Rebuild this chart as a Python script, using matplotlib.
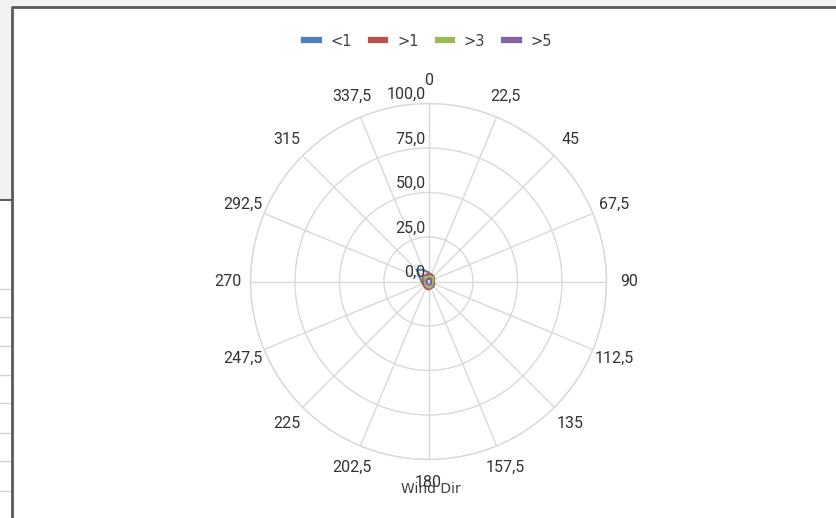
import numpy as np
import matplotlib.pyplot as plt
from matplotlib.patches import Rectangle
from matplotlib.lines import Line2D

directions = [0, 22.5, 45, 67.5, 90, 112.5, 135, 157.5, 180,
              202.5, 225, 247.5, 270, 292.5, 315, 337.5]
dir_labels = ["0", "22,5", "45", "67,5", "90", "112,5", "135", "157,5", "180",
              "202,5", "225", "247,5", "270", "292,5", "315", "337,5"]
r_ticks = [0, 25, 50, 75, 100]
r_labels = ["0,0", "25,0", "50,0", "75,0", "100,0"]

series_names = ["<1", ">1", ">3", ">5"]
lt1 = [5, 4, 3.5, 3, 3, 3.5, 4, 4, 4, 4, 3.5, 3.5, 4, 5, 9.5, 7]
gt1 = [4, 4.5, 4, 3.5, 3, 3, 3.5, 4, 4.5, 4, 3.5, 3, 3, 3.5, 4, 4]
gt3 = [2.5, 3, 3.5, 3, 2.5, 2.5, 3, 3.5, 3.5, 3, 2.5, 2, 2, 2.5, 3, 2.5]
gt5 = [1.5, 2, 2, 1.5, 1.5, 1.5, 2, 2, 2, 1.5, 1.5, 1, 1, 1.5, 1.5, 1.5]
colors = ["#4F81BD", "#C0504D", "#9BBB59", "#8064A2"]

W, H = 836, 518
fig = plt.figure(figsize=(W / 100, H / 100), dpi=100)
fig.patch.set_facecolor("white")

def px(x, y):
    return x / W, 1 - y / H

# spreadsheet bits around the chart
fig.add_artist(Rectangle((0, 1 - 6 / H), 1, 6 / H, transform=fig.transFigure,
                         facecolor="#f2f2f2", edgecolor="none"))
fig.add_artist(Rectangle((0, 1 - 200 / H), 12 / W, 194 / H, transform=fig.transFigure,
                         facecolor="#f2f2f2", edgecolor="none"))
fig.add_artist(Line2D([0, 12 / W], [1 - 200 / H] * 2, transform=fig.transFigure,
                      color="#606060", lw=1.5))
for gy in [289, 317, 346, 375, 403, 433, 461, 491]:
    fig.add_artist(Line2D([0, 11 / W], [1 - gy / H] * 2, transform=fig.transFigure,
                          color="#d4d4d4", lw=1))
fig.add_artist(Line2D([12 / W, 12 / W, 1], [0, 1 - 6.5 / H, 1 - 6.5 / H],
                      transform=fig.transFigure, color="#5a5a5a", lw=2))

cx, cy, rad = 428.5, 281.5, 178
ax = fig.add_axes([(cx - rad) / W, 1 - (cy + rad) / H, 2 * rad / W, 2 * rad / H],
                  projection="polar")
ax.set_theta_zero_location("N")
ax.set_theta_direction(-1)
ax.set_ylim(0, 100)
ax.set_yticks(r_ticks)
ax.set_yticklabels([])
ax.set_thetagrids(directions, dir_labels, fontsize=11.5, color="#333333",
                  fontfamily="Roboto")
ax.tick_params(axis="x", pad=6)
ax.grid(True, color="#d9d9d9", lw=1)
ax.spines["polar"].set_color("#d9d9d9")
ax.spines["polar"].set_linewidth(1)
ax.set_facecolor("white")

for r, lab in zip(r_ticks, r_labels):
    ax.annotate(lab, xy=(0, r), xytext=(-2, 1), textcoords="offset points",
                ha="right", va="bottom", fontsize=11.5, color="#333333",
                fontfamily="Roboto")

theta = np.deg2rad(directions + [directions[0]])
for name, vals, c in zip(series_names, [lt1, gt1, gt3, gt5], colors):
    ax.plot(theta, vals + [vals[0]], color=c, lw=1.5, label=name)

handles = [Line2D([0], [0], color=c, lw=4.5) for c in colors]
fig.legend(handles, series_names, loc="center", bbox_to_anchor=px(428, 41),
           ncol=4, frameon=False, fontsize=10.5, handlelength=1.0,
           handletextpad=0.8, columnspacing=1.3, labelcolor="#404040")

fig.text(*px(431, 489), "Wind Dir", ha="center", va="center", fontsize=10,
         color="#404040")

fig.savefig("out.png", dpi=100)
